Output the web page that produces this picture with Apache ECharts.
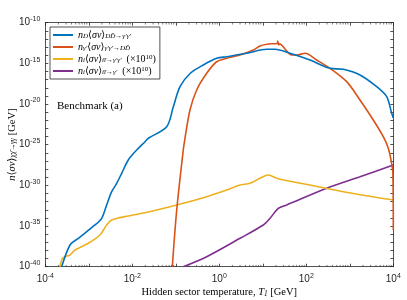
<!DOCTYPE html>
<html><head><meta charset="utf-8">
<script src="https://cdn.jsdelivr.net/npm/echarts@6/dist/echarts.min.js"></script>
<style>html,body{margin:0;padding:0;background:#fff}#c{width:407px;height:300px}</style>
</head><body><div id="c"></div>
<script>
// values as log10 exponents: [log10 T, log10 value]
var blueLogT = [-3.623,-3.432,-3.241,-2.857,-2.703,-2.589,-2.474,-2.359,-2.244,-2.092,-1.899,-1.708,-1.632,-1.209,-1.057,-0.903,-0.667,-0.368,-0.060,0.170,0.630,1.090,1.280,1.625,2.085,2.545,2.851,3.234,3.618,3.848,3.963,4.0];
var blueLogV = [-40,-37.33,-36.51,-34.87,-34.05,-32.41,-30.78,-29.75,-28.52,-26.88,-25.65,-24.63,-24.21,-22.79,-20.33,-17.87,-16.22,-15.20,-14.38,-14.18,-13.76,-13.27,-13.27,-13.76,-14.59,-15.61,-15.73,-16.43,-17.87,-19.10,-21.14,-21.7];
var orangeLogT = [-1.080,-0.979,-0.828,-0.789,-0.674,-0.520,-0.290,-0.060,0.170,0.476,0.782,0.936,1.126,1.33,1.345,1.36,1.38,1.664,1.779,1.970,2.239,2.545,2.929,3.234,3.540,3.770,3.885,3.947,3.99,4.0];
var orangeLogV = [-40,-33.03,-25.65,-24.21,-20.73,-18.27,-16.22,-14.80,-14.38,-13.97,-13.36,-12.86,-12.62,-12.55,-12.25,-12.75,-12.6,-13.97,-13.97,-13.76,-14.59,-15.61,-17.25,-19.50,-21.96,-24.02,-25.44,-26.88,-28.5,-35.49];
var yellowLogT = [-3.662,-3.609,-3.547,-3.432,-3.317,-3.011,-2.743,-2.589,-2.474,-2.092,-1.708,-1.439,-0.979,-0.290,0.170,0.476,0.706,0.936,1.126,1.320,1.395,2.085,2.851,4.0];
var yellowLogV = [-40,-38.97,-38.77,-38.56,-37.95,-37.12,-36.10,-34.87,-34.26,-33.77,-33.36,-33.03,-32.41,-31.39,-30.57,-29.96,-29.75,-29.13,-28.73,-29.13,-29.25,-29.96,-30.78,-31.80];
var purpleLogT = [-0.828,-0.290,0.476,1.011,1.166,1.356,1.549,2.469,3.234,4.0];
var purpleLogV = [-40,-38.77,-36.51,-34.87,-34.05,-32.82,-32.41,-30.36,-28.94,-27.50];
var seriesNames = ['nD','ngp','ni1','ni2'];
var seriesColors = ['#0072BD','#D95319','#EDB120','#7E2F8E'];
var xDecades = [-4,-3,-2,-1,0,1,2,3];
var minorMultipliers = [2,3,4,5,6,7,8,9];
var benchmarkLabel = 'Benchmark (a)';

function pairs(lt, lv){ return lt.map(function(t,i){ return [t, lv[i]]; }); }
var datasets = [pairs(blueLogT,blueLogV), pairs(orangeLogT,orangeLogV), pairs(yellowLogT,yellowLogV), pairs(purpleLogT,purpleLogV)];
var minorTickPos = [];
xDecades.forEach(function(d){ minorMultipliers.forEach(function(m){ minorTickPos.push([d + Math.log10(m)]); }); });

var SERIF = '"Liberation Serif", "DejaVu Serif", serif';
var SANS = '"Liberation Sans", Arial, sans-serif';
function expFmt(step){ return function(v){ var e = Math.round(v); if (e % step !== 0) return ''; return '{b|10}{s|' + e + '}'; }; }
var tickRich = { b:{fontSize:10, fontFamily:SANS, color:'#262626'}, s:{fontSize:7, fontFamily:SANS, color:'#262626', padding:[0,0,7,0]} };

var legendText = {
  nD: '{i|n}{sub|D}⟨{i|σv}⟩{sub|DD̄→γ′γ′}',
  ngp: '{i|n}{sub|γ′}⟨{i|σv}⟩{sub|γ′γ′→DD̄}',
  ni1: '{i|n}{sub|i}⟨{i|σv}⟩{sub|iī→γ′γ′}  (×10{sup|10})',
  ni2: '{i|n}{sub|i}⟨{i|σv}⟩{sub|iī→γ′}  (×10{sup|10})'
};
function mkRich(fs){ return {
  i:{fontStyle:'italic', fontFamily:SERIF, fontSize:fs, color:'#000'},
  sub:{fontStyle:'italic', fontFamily:SERIF, fontSize:fs*0.7, color:'#000', padding:[3,0,0,0]},
  sup:{fontFamily:SERIF, fontSize:fs*0.7, color:'#000', padding:[0,0,4,0]}
}; }

var chart = echarts.init(document.getElementById('c'));
var axisLineStyle = {color:'#262626', width:0.8};
var series = seriesNames.map(function(n,k){
  return {name:n, type:'line', xAxisIndex:0, yAxisIndex:0, data:datasets[k], showSymbol:false, symbol:'none',
    smooth:0.3, lineStyle:{color:seriesColors[k], width:1.6}, itemStyle:{color:seriesColors[k]}, z:10-k};
});
series.push({
  type:'custom', xAxisIndex:0, yAxisIndex:0, data:minorTickPos, silent:true, z:20, clip:false,
  renderItem:function(params, api){
    var b = api.coord([api.value(0), -40]);
    var t = api.coord([api.value(0), -10]);
    var st = {stroke:'#262626', lineWidth:0.6};
    return {type:'group', children:[
      {type:'line', shape:{x1:b[0], y1:b[1], x2:b[0], y2:b[1]-1.8}, style:st},
      {type:'line', shape:{x1:t[0], y1:t[1], x2:t[0], y2:t[1]+1.8}, style:st}
    ]};
  }
});
chart.setOption({
  animation:false,
  backgroundColor:'#fff',
  grid:{left:45.3, right:13.7, top:22.7, bottom:33.3, containLabel:false, outerBoundsMode:'none'},
  title:{text:benchmarkLabel, left:52, top:96, textStyle:{fontFamily:SERIF, fontSize:11, fontWeight:'normal', color:'#000'}},
  legend:{
    orient:'vertical', left:50, top:27, padding:[2,4,2,3], itemGap:0,
    borderColor:'#262626', borderWidth:0.8, backgroundColor:'#fff',
    icon:'rect', itemWidth:20, itemHeight:2,
    data:seriesNames,
    formatter:function(n){ return legendText[n]; },
    textStyle:{fontFamily:SERIF, fontSize:10, lineHeight:12, color:'#000', rich:mkRich(10)}
  },
  xAxis:[{
    type:'value', min:-4, max:4, interval:1,
    name:'Hidden sector temperature, {i|T}{sub|1} [GeV]', nameLocation:'middle', nameGap:20, nameMoveOverlap:false,
    nameTextStyle:{fontFamily:SERIF, fontSize:10.5, color:'#000', rich:mkRich(10.5)},
    axisLine:{onZero:false, lineStyle:axisLineStyle}, axisTick:{inside:true, length:3, lineStyle:axisLineStyle},
    axisLabel:{formatter:expFmt(2), rich:tickRich, margin:6},
    splitLine:{show:false}
  },{
    type:'value', min:-4, max:4, interval:1, position:'top',
    axisLine:{onZero:false, lineStyle:axisLineStyle}, axisTick:{inside:true, length:3, lineStyle:axisLineStyle},
    axisLabel:{show:false}, splitLine:{show:false}
  }],
  yAxis:[{
    type:'value', min:-40, max:-10, interval:1,
    name:'{i|n}⟨{i|σv}⟩{sub|χχ̄→γγ} [GeV]', nameLocation:'middle', nameGap:28, nameMoveOverlap:false,
    nameTextStyle:{fontFamily:SERIF, fontSize:10.5, color:'#000', rich:mkRich(10.5)},
    axisLine:{onZero:false, lineStyle:axisLineStyle}, axisTick:{inside:true, length:3, lineStyle:axisLineStyle},
    axisLabel:{formatter:expFmt(5), rich:tickRich, margin:5},
    splitLine:{show:false}
  },{
    type:'value', min:-40, max:-10, interval:1, position:'right',
    axisLine:{onZero:false, lineStyle:axisLineStyle}, axisTick:{inside:true, length:3, lineStyle:axisLineStyle},
    axisLabel:{show:false}, splitLine:{show:false}
  }],
  series: series
});
</script></body></html>
